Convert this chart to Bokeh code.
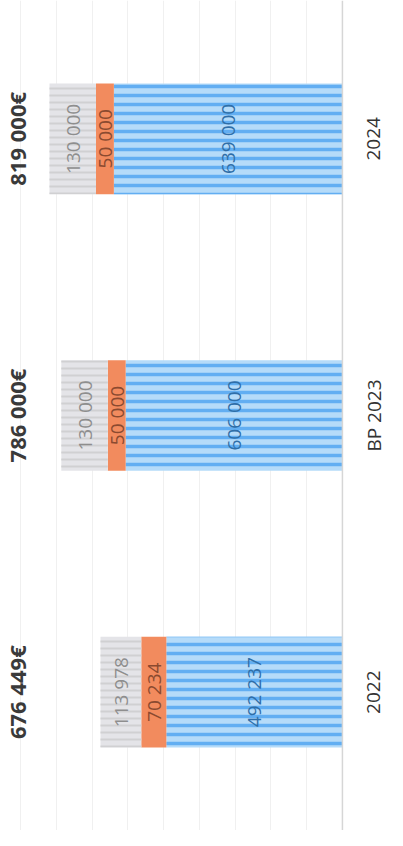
import math
from bokeh.plotting import figure
from bokeh.models import Range1d, FactorRange, ColumnDataSource, Span, Grid, FixedTicker
from bokeh.core.properties import value
from bokeh.embed import file_html
from bokeh.resources import INLINE

categories = ["2022", "BP 2023", "2024"]
blue_vals = [492237, 606000, 639000]
orange_vals = [70234, 50000, 50000]
gray_vals = [113978, 130000, 130000]
blue_labels = ["492 237", "606 000", "639 000"]
orange_labels = ["70 234", "50 000", "50 000"]
gray_labels = ["113 978", "130 000", "130 000"]
total_labels = ["676 449€", "786 000€", "819 000€"]
grid_ticks = [100000, 200000, 300000, 400000, 500000, 600000, 700000, 800000, 900000]

b0 = [0] * 3
b1 = blue_vals
o1 = [b + o for b, o in zip(blue_vals, orange_vals)]
g1 = [x + g for x, g in zip(o1, gray_vals)]

src = ColumnDataSource(dict(
    cat=categories, b0=b0, b1=b1, o1=o1, g1=g1,
    bmid=[(a + b) / 2 for a, b in zip(b0, b1)],
    omid=[(a + b) / 2 for a, b in zip(b1, o1)],
    gmid=[(a + b) / 2 for a, b in zip(o1, g1)],
    blab=blue_labels, olab=orange_labels, glab=gray_labels, tlab=total_labels,
    tx=[910000] * 3, cx=[-87000] * 3,
))

p = figure(width=387, height=830, output_backend="svg", toolbar_location=None,
           x_range=Range1d(956000, -126000),
           y_range=FactorRange(factors=categories, range_padding=0),
           min_border=0, outline_line_color=None)
p.xaxis.visible = False
p.yaxis.visible = False
p.xgrid.visible = False
p.ygrid.visible = False
p.background_fill_color = "white"

g = Grid(dimension=0, ticker=FixedTicker(ticks=grid_ticks), grid_line_color="#f0f0f0", grid_line_width=1)
p.add_layout(g)

h = 0.4
p.hbar(y="cat", left="b0", right="b1", height=h, source=src,
       fill_color="#b5dbf9", line_color=None,
       hatch_pattern="horizontal_line", hatch_color="#62aef2", hatch_scale=9, hatch_weight=3.5)
p.hbar(y="cat", left="b1", right="o1", height=h, source=src,
       fill_color="#f28b5e", line_color=None)
p.hbar(y="cat", left="o1", right="g1", height=h, source=src,
       fill_color="#e4e4e8", line_color=None,
       hatch_pattern="horizontal_line", hatch_color="#d0d0d2", hatch_scale=7, hatch_weight=2)

p.add_layout(Span(location=0, dimension="height", line_color="#d6d6d6", line_width=1.5))

ang = math.pi / 2
common = dict(angle=ang, text_align="center", text_baseline="middle", source=src)
p.text(x="bmid", y="cat", text="blab", text_color="#2f6ea8", text_font=value("Open Sans"),
       text_font_size="19px", **common)
p.text(x="omid", y="cat", text="olab", text_color="#8a4a30", text_font=value("Open Sans"),
       text_font_size="19px", **common)
p.text(x="gmid", y="cat", text="glab", text_color="#8e8e8e", text_font=value("Open Sans"),
       text_font_size="19px", **common)
p.text(x="tx", y="cat", text="tlab", text_color="#3a3a3a", text_font=value("Open Sans"),
       text_font_size="22px", text_font_style="bold", **common)
p.text(x="cx", y="cat", text="cat", text_color="#333333", text_font=value("Open Sans"),
       text_font_size="19px", **common)

open("out.html", "w").write(file_html(p, INLINE))
